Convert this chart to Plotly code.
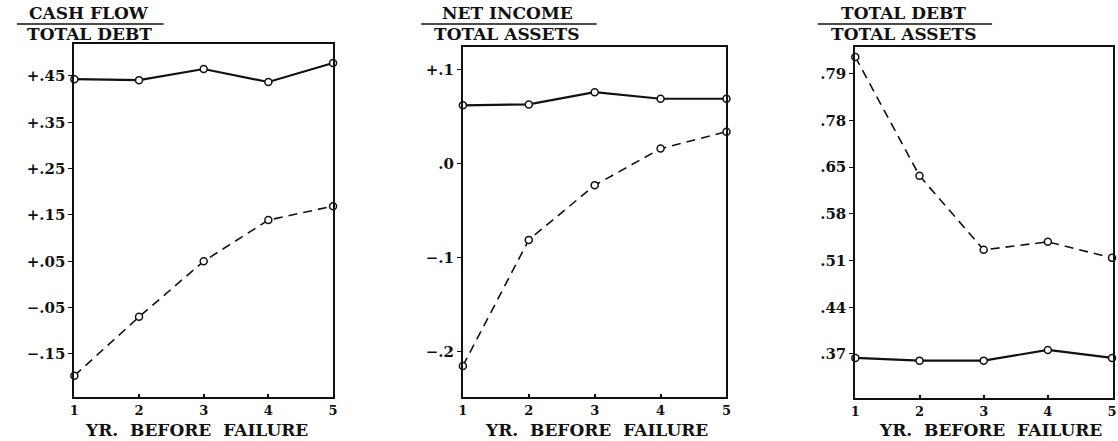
import plotly.graph_objects as go

years = [1, 2, 3, 4, 5]

# Panel 1: Cash flow / Total debt
cf_td_nonfailed = [0.443, 0.441, 0.465, 0.437, 0.478]
cf_td_failed = [-0.197, -0.070, 0.050, 0.139, 0.169]
cf_ticks = [0.45, 0.35, 0.25, 0.15, 0.05, -0.05, -0.15]
cf_ticktext = ["+.45", "+.35", "+.25", "+.15", "+.05", "\u2212.05", "\u2212.15"]

# Panel 2: Net income / Total assets
ni_ta_nonfailed = [0.062, 0.063, 0.076, 0.069, 0.069]
ni_ta_failed = [-0.215, -0.081, -0.023, 0.016, 0.034]
ni_ticks = [0.1, 0.0, -0.1, -0.2]
ni_ticktext = ["+.1", ".0", "\u2212.1", "\u2212.2"]

# Panel 3: Total debt / Total assets
td_ta_nonfailed = [0.364, 0.360, 0.360, 0.376, 0.364]
td_ta_failed = [0.815, 0.637, 0.526, 0.538, 0.514]
td_ticks = [0.79, 0.72, 0.65, 0.58, 0.51, 0.44, 0.37]
td_ticktext = [".79", ".78", ".65", ".58", ".51", ".44", ".37"]

x_ticktext = ["1", "2", "3", "4", "5"]

W, H = 1118, 441
INK = "#111111"
SERIF = "DejaVu Serif, Liberation Serif, serif"


def px(x):
    return x / W


def py(y):
    return 1 - y / H


fig = go.Figure()

panels = [
    (cf_td_nonfailed, cf_td_failed, "x", "y"),
    (ni_ta_nonfailed, ni_ta_failed, "x2", "y2"),
    (td_ta_nonfailed, td_ta_failed, "x3", "y3"),
]
for solid, dashed, xa, ya in panels:
    fig.add_trace(go.Scatter(
        x=years, y=solid, xaxis=xa, yaxis=ya, mode="lines+markers",
        line=dict(color=INK, width=2.2),
        marker=dict(symbol="circle", size=7, color="white",
                    line=dict(color=INK, width=1.5)),
        showlegend=False, cliponaxis=False))
    fig.add_trace(go.Scatter(
        x=years, y=dashed, xaxis=xa, yaxis=ya, mode="lines+markers",
        line=dict(color=INK, width=1.6, dash="9px,6px"),
        marker=dict(symbol="circle", size=7, color="white",
                    line=dict(color=INK, width=1.5)),
        showlegend=False, cliponaxis=False))

ytickfont = dict(family=SERIF, size=15, color=INK, weight="bold")
xtickfont = dict(family=SERIF, size=13, color=INK, weight="bold")
axis_common = dict(showgrid=False, zeroline=False, showline=True, mirror=True,
                   linecolor=INK, linewidth=2)

xcommon = dict(axis_common, tickvals=years, ticktext=x_ticktext, tickfont=xtickfont,
               ticks="inside", ticklen=3, tickcolor=INK, tickwidth=2)
ycommon = dict(axis_common, tickfont=ytickfont, ticks="outside", ticklen=4,
               tickcolor=INK)

fig.update_layout(
    width=W, height=H,
    margin=dict(l=0, r=0, t=0, b=0),
    paper_bgcolor="white", plot_bgcolor="white",
    xaxis=dict(xcommon, domain=[px(70), px(331)], range=[1, 5], anchor="y"),
    yaxis=dict(ycommon, domain=[py(397), py(44)], range=[-0.243, 0.519],
               tickvals=cf_ticks, ticktext=cf_ticktext, anchor="x"),
    xaxis2=dict(xcommon, domain=[px(462), px(728)], range=[1, 5], anchor="y2"),
    yaxis2=dict(ycommon, domain=[py(397), py(47)], range=[-0.248, 0.124],
                tickvals=ni_ticks, ticktext=ni_ticktext, anchor="x2"),
    xaxis3=dict(xcommon, domain=[px(858), 1.0], range=[1, 5.015], anchor="y3"),
    yaxis3=dict(ycommon, domain=[py(398), py(47)], range=[0.304, 0.830],
                tickvals=td_ticks, ticktext=td_ticktext, anchor="x3"),
)

titles = [
    ("CASH FLOW", "TOTAL DEBT", 85, 12, 160),
    ("NET INCOME", "TOTAL ASSETS", 507, 420, 597),
    ("TOTAL DEBT", "TOTAL ASSETS", 907, 820, 996),
]
titlefont = dict(family=SERIF, size=17, color=INK, weight="bold")
anns = []
shapes = []
for num, den, cx, lx0, lx1 in titles:
    anns.append(dict(text=num, x=px(cx), y=py(13), xref="paper", yref="paper",
                     showarrow=False, xanchor="center", yanchor="middle",
                     font=titlefont))
    anns.append(dict(text=den, x=px(cx), y=py(34), xref="paper", yref="paper",
                     showarrow=False, xanchor="center", yanchor="middle",
                     font=titlefont))
    shapes.append(dict(type="line", xref="paper", yref="paper",
                       x0=px(lx0), x1=px(lx1), y0=py(24), y1=py(24),
                       line=dict(color=INK, width=1.5)))

for cx in [193, 597, 994]:
    anns.append(dict(text="YR.  BEFORE  FAILURE", x=px(cx), y=py(430),
                     xref="paper", yref="paper", showarrow=False,
                     xanchor="center", yanchor="middle",
                     font=dict(family=SERIF, size=17, color=INK, weight="bold")))

fig.update_layout(annotations=anns, shapes=shapes)

fig.write_html(
    "out.html",
    config={"displayModeBar": False},
    post_script="document.body.style.margin='0';document.body.style.overflow='hidden';",
)
